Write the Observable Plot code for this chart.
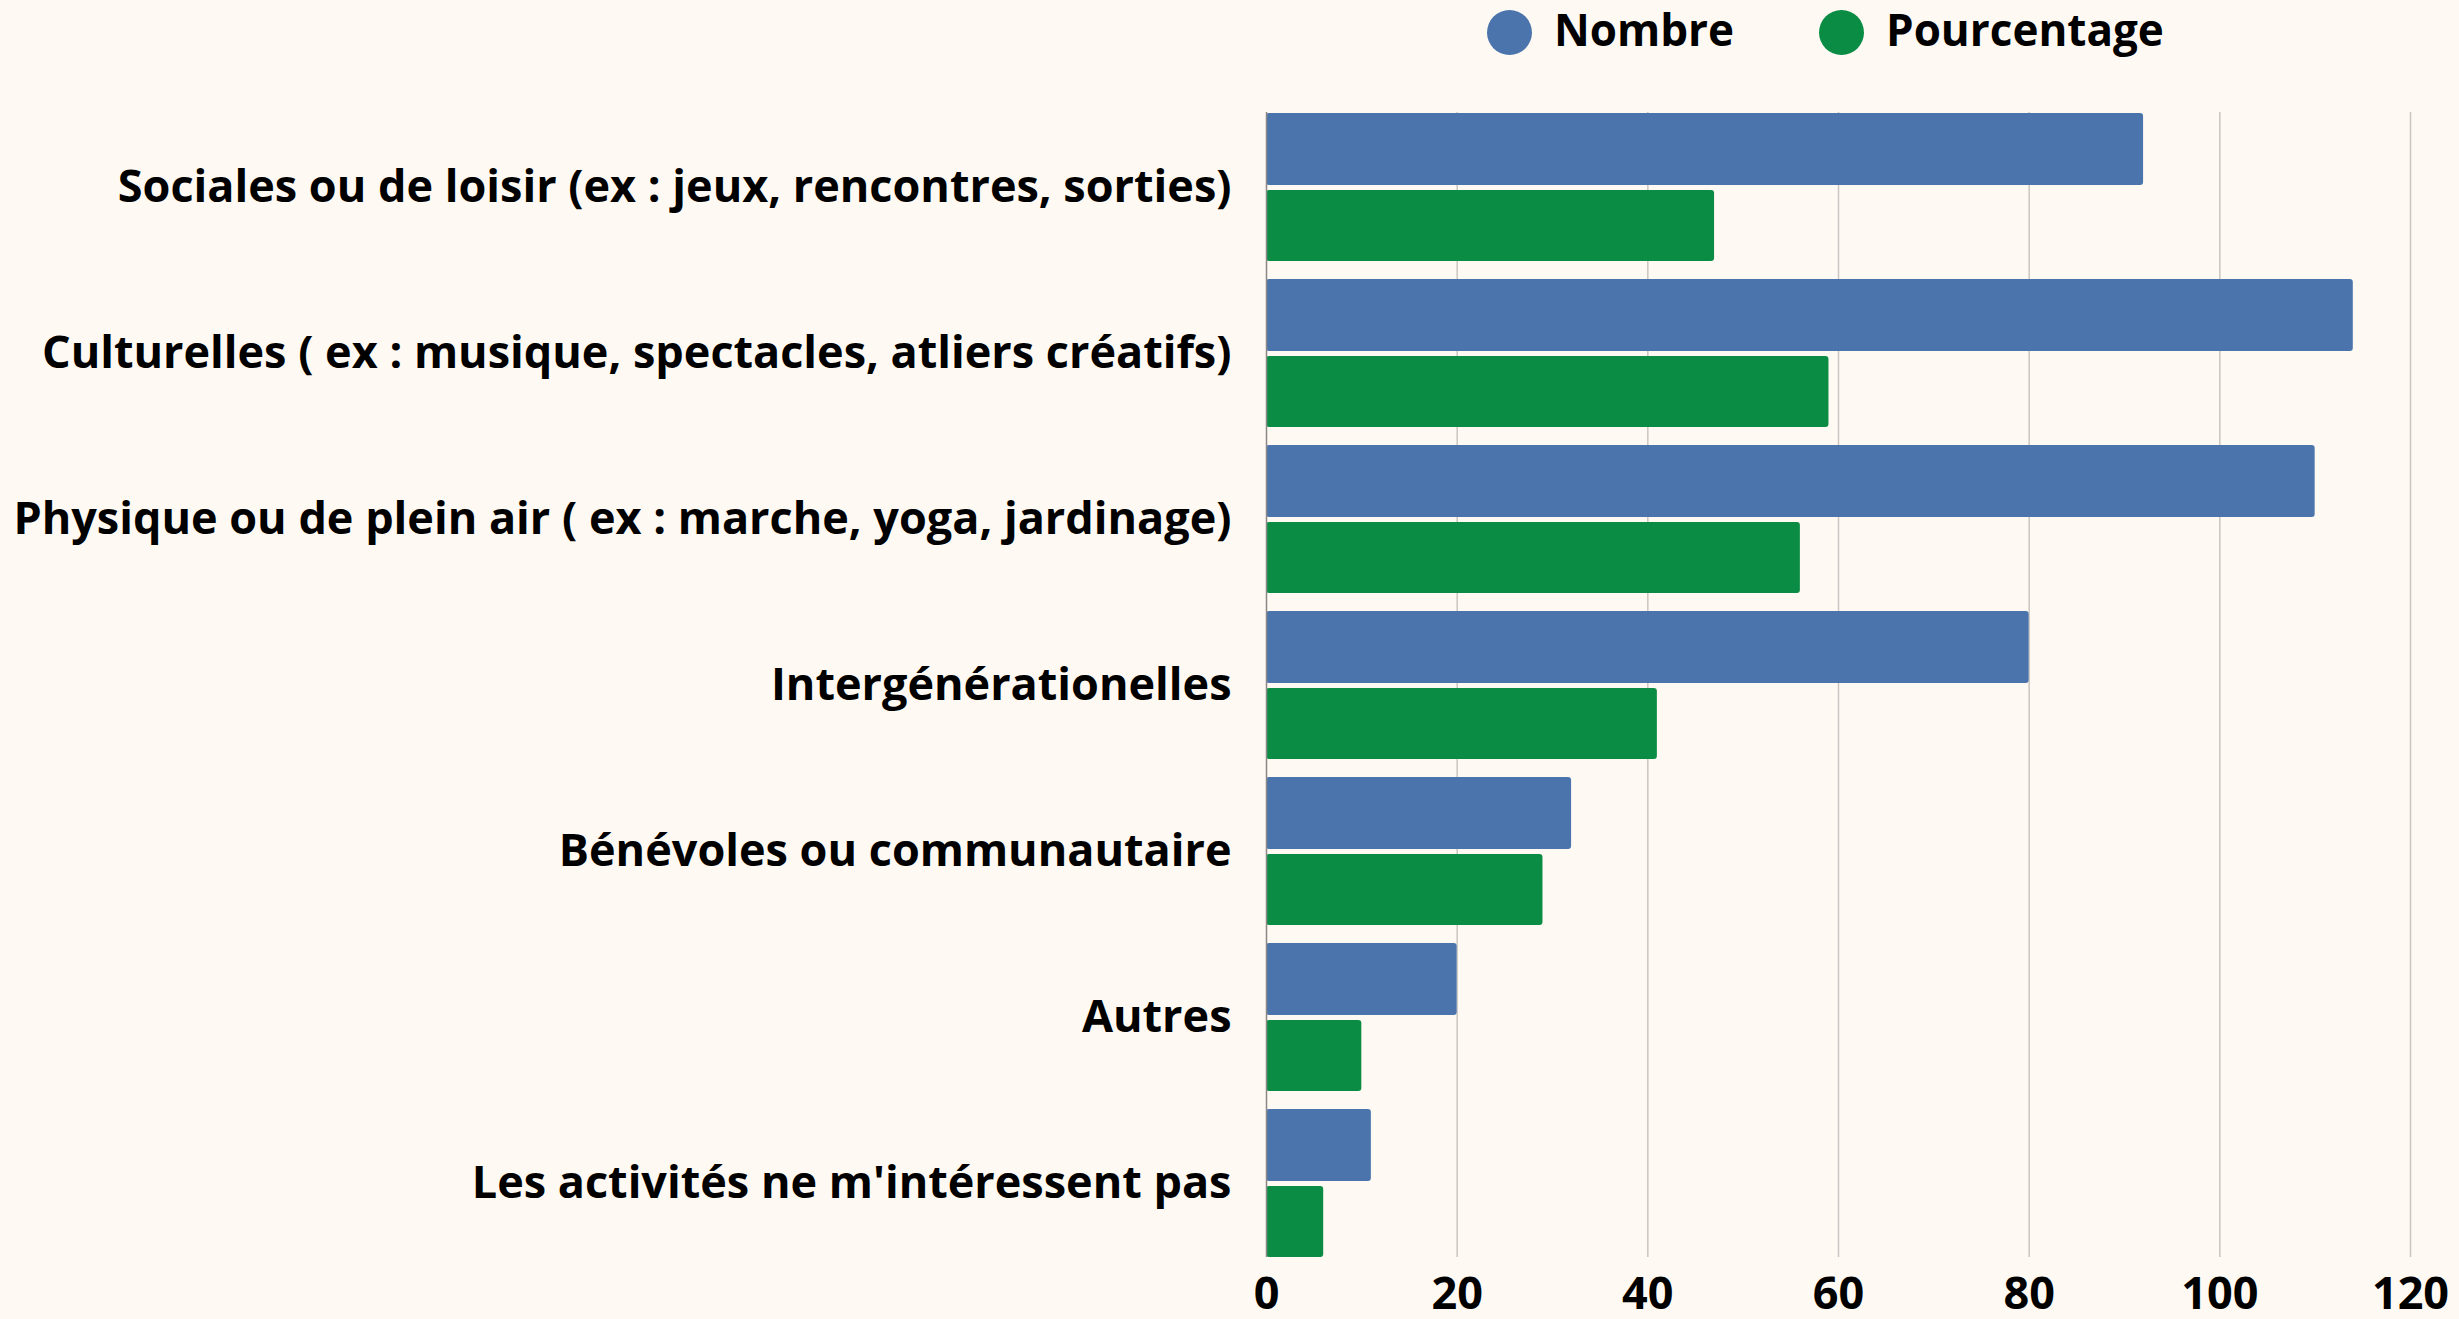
<!DOCTYPE html>
<html>
<head>
<meta charset="utf-8">
<script src="https://cdn.jsdelivr.net/npm/d3@7"></script>
<script src="https://cdn.jsdelivr.net/npm/@observablehq/plot@0.6"></script>
<style>
  html, body { margin: 0; padding: 0; background: #fef9f3; }
  body { width: 2459px; height: 1319px; overflow: hidden; font-family: "Open Sans", sans-serif; }
  #legend { position: relative; height: 65px; }
  .item { position: absolute; top: 0; height: 65px; display: flex; align-items: center; }
  .swatch { width: 45px; height: 45px; border-radius: 50%; }
  .lab { font-weight: 700; font-size: 44px; color: #000; margin-left: 22px; position: relative; top: -4px; }
  #chart svg { display: block; }
</style>
</head>
<body>
<div id="legend"></div>
<div id="chart"></div>
<script>
const categories = [
  "Sociales ou de loisir (ex : jeux, rencontres, sorties)",
  "Culturelles ( ex : musique, spectacles, atliers créatifs)",
  "Physique ou de plein air ( ex : marche, yoga, jardinage)",
  "Intergénérationelles",
  "Bénévoles ou communautaire",
  "Autres",
  "Les activités ne m'intéressent pas"
];
const nombre = [92, 114, 110, 80, 32, 20, 11];
const pourcentage = [47, 59, 56, 41, 29, 10, 6];
const seriesNames = ["Nombre", "Pourcentage"];
const seriesColors = ["#4a74ab", "#0a8c44"];
const xTicks = [0, 20, 40, 60, 80, 100, 120];

// Legend (HTML, above the SVG)
const legend = document.getElementById("legend");
const legendLeft = [1487, 1819];
seriesNames.forEach((name, i) => {
  const it = document.createElement("div");
  it.className = "item";
  it.style.left = legendLeft[i] + "px";
  const sw = document.createElement("div");
  sw.className = "swatch";
  sw.style.background = seriesColors[i];
  const lb = document.createElement("span");
  lb.className = "lab";
  lb.textContent = name;
  it.appendChild(sw);
  it.appendChild(lb);
  legend.appendChild(it);
});

const data = categories.flatMap((c, i) => [
  {cat: c, series: seriesNames[0], value: nombre[i]},
  {cat: c, series: seriesNames[1], value: pourcentage[i]}
]);

const chart = Plot.plot({
  width: 2459,
  height: 1254,
  marginTop: 47,
  marginBottom: 62,
  marginLeft: 1266,
  marginRight: 49,
  style: {background: "transparent", fontFamily: "'Open Sans', sans-serif", fontSize: "45px", fontWeight: 700, color: "#000", overflow: "visible"},
  x: {domain: [0, 120], ticks: xTicks, tickSize: 0, tickPadding: 20, label: null},
  y: {domain: categories, paddingInner: 0.11, paddingOuter: 0, tickSize: 0, tickPadding: 35, label: null},
  color: {domain: seriesNames, range: seriesColors},
  marks: [
    Plot.ruleX(xTicks.slice(1), {stroke: "#c9c6c2", strokeWidth: 1.5}),
    Plot.barX(data.filter(d => d.series === seriesNames[0]), {y: "cat", x: "value", fill: "series", insetBottom: 76, rx: 3}),
    Plot.barX(data.filter(d => d.series === seriesNames[1]), {y: "cat", x: "value", fill: "series", insetTop: 77, rx: 3}),
    Plot.ruleX([0], {stroke: "#8a8784", strokeWidth: 1.5})
  ]
});
document.getElementById("chart").appendChild(chart);
</script>
</body>
</html>
